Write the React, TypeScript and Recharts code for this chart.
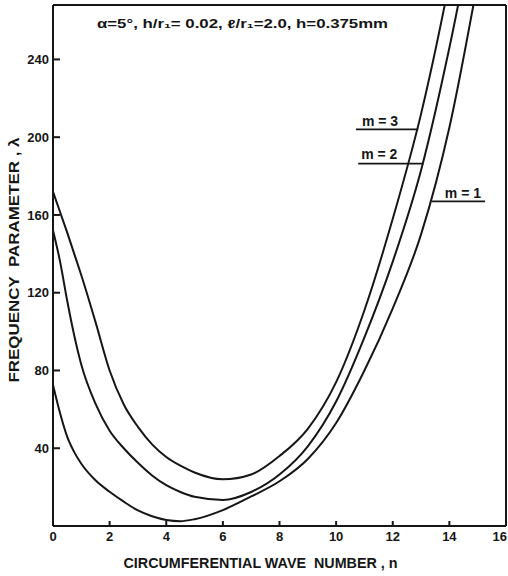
import { Line, LineChart, ReferenceLine, XAxis, YAxis, usePlotArea } from "recharts";

const INK = "#161616";
const FONT = "'Liberation Sans', Arial, sans-serif";

// circumferential wave number n
const waveNumbers = [0, 0.25, 0.5, 0.75, 1, 1.5, 2, 2.5, 3, 3.5, 4, 4.5, 5, 6, 7, 8, 9, 10, 11, 12, 13, 14, 15];
// frequency parameter λ for m = 1, 2, 3
const lambdaM1 = [72.5, 58, 46, 38, 32, 23.5, 17.6, 12.5, 8, 5, 3.1, 2.5, 3.5, 8.2, 15.2, 23, 34.5, 53, 80, 112, 150, 205, 280];
const lambdaM2 = [152, 136, 116, 98, 83, 63, 49, 40, 32.5, 26, 21, 17.5, 15, 13.4, 17.5, 26.5, 41, 64, 97, 136, 183, 246, 320];
const lambdaM3 = [172, 161.5, 151, 140, 129, 105, 80, 62.5, 51, 42, 35.5, 31, 27.5, 24, 26.5, 36, 50, 74, 111, 158, 212, 280, 360];

const xTicks = [0, 2, 4, 6, 8, 10, 12, 14, 16];
const yTicks = [40, 80, 120, 160, 200, 240];

const caption = "α=5°, h/r₁= 0.02, ℓ/r₁=2.0, h=0.375mm";
const xTitle = "CIRCUMFERENTIAL WAVE  NUMBER , n";
const yTitle = "FREQUENCY  PARAMETER , λ";

const rows = waveNumbers.map((n, i) => ({
  n,
  m1: lambdaM1[i],
  m2: lambdaM2[i],
  m3: lambdaM3[i],
}));

function YTick({ x, y, payload }: any) {
  return (
    <g>
      <line x1={x - 1} x2={x + 7} y1={y} y2={y} stroke={INK} strokeWidth={2} />
      <text
        x={x - 4}
        y={y}
        dy="0.36em"
        textAnchor="end"
        fontFamily={FONT}
        fontWeight="bold"
        fontSize={13}
        fill={INK}
      >
        {payload.value}
      </text>
    </g>
  );
}

function XTick({ x, y, payload }: any) {
  // the last label sits on the right border, keep it inside the picture
  const last = payload.value === xTicks[xTicks.length - 1];
  return (
    <g>
      <line x1={x} x2={x} y1={y - 5} y2={y} stroke={INK} strokeWidth={2} />
      <text
        x={last ? x + 1 : x}
        y={y + 15}
        textAnchor={last ? "end" : "middle"}
        fontFamily={FONT}
        fontWeight="bold"
        fontSize={13}
        fill={INK}
      >
        {payload.value}
      </text>
    </g>
  );
}

function ModeLabel({ viewBox, text, dx, dy }: any) {
  if (!viewBox) return null;
  return (
    <text
      x={viewBox.x + dx}
      y={viewBox.y + dy}
      fontFamily={FONT}
      fontWeight="bold"
      fontSize={14}
      fill={INK}
      style={{ whiteSpace: "pre" }}
    >
      {text}
    </text>
  );
}

function Caption() {
  const plot = usePlotArea();
  if (!plot) return null;
  return (
    <text
      x={plot.x + 44}
      y={plot.y + 23}
      fontFamily={FONT}
      fontWeight="bold"
      fontSize={12}
      fill={INK}
      textLength={291}
      lengthAdjust="spacingAndGlyphs"
      style={{ whiteSpace: "pre" }}
    >
      {caption}
    </text>
  );
}

export default function App() {
  return (
    <div style={{ position: "absolute", left: 0, top: 0, width: 508, height: 576, background: "#fff" }}>
      <LineChart
        width={508}
        height={576}
        data={rows}
        margin={{ top: 5, right: 2, bottom: 0, left: 0 }}
      >
        <XAxis
          dataKey="n"
          type="number"
          domain={[0, 16]}
          ticks={xTicks}
          interval={0}
          allowDataOverflow
          height={50}
          tickSize={0}
          tickMargin={0}
          tick={<XTick />}
          tickLine={false}
          axisLine={{ stroke: INK, strokeWidth: 2 }}
          label={{
            content: ({ viewBox }: any) => (
              <text
                x={viewBox.x + viewBox.width / 2 - 19}
                y={viewBox.y + 42}
                textAnchor="middle"
                fontFamily={FONT}
                fontWeight="bold"
                fontSize={14}
                fill={INK}
                textLength={274}
                lengthAdjust="spacingAndGlyphs"
                style={{ whiteSpace: "pre" }}
              >
                {xTitle}
              </text>
            ),
          }}
        />
        <YAxis
          type="number"
          domain={[0, 268]}
          ticks={yTicks}
          interval={0}
          allowDataOverflow
          width={53}
          tickSize={0}
          tickMargin={0}
          tick={<YTick />}
          tickLine={false}
          axisLine={{ stroke: INK, strokeWidth: 2 }}
          label={{
            content: ({ viewBox }: any) => {
              const cx = viewBox.x + 18.5;
              const cy = viewBox.y + viewBox.height / 2 - 5.5;
              return (
                <text
                  x={cx}
                  y={cy}
                  transform={`rotate(-90 ${cx} ${cy})`}
                  textAnchor="middle"
                  fontFamily={FONT}
                  fontWeight="bold"
                  fontSize={15}
                  fill={INK}
                  textLength={245}
                  lengthAdjust="spacingAndGlyphs"
                  style={{ whiteSpace: "pre" }}
                >
                  {yTitle}
                </text>
              );
            },
          }}
        />
        <ReferenceLine y={268} stroke={INK} strokeWidth={2} />
        <ReferenceLine x={16} stroke={INK} strokeWidth={2} />

        <Line type="monotone" dataKey="m1" stroke={INK} strokeWidth={2} dot={false} isAnimationActive={false} />
        <Line type="monotone" dataKey="m2" stroke={INK} strokeWidth={2} dot={false} isAnimationActive={false} />
        <Line type="monotone" dataKey="m3" stroke={INK} strokeWidth={2} dot={false} isAnimationActive={false} />

        <ReferenceLine
          segment={[{ x: 10.7, y: 204 }, { x: 12.9, y: 204 }]}
          stroke={INK}
          strokeWidth={1.6}
          ifOverflow="visible"
          label={<ModeLabel text="m = 3" dx={6} dy={-3.5} />}
        />
        <ReferenceLine
          segment={[{ x: 10.78, y: 186.4 }, { x: 13.08, y: 186.4 }]}
          stroke={INK}
          strokeWidth={1.6}
          ifOverflow="visible"
          label={<ModeLabel text="m = 2" dx={3} dy={-5} />}
        />
        <ReferenceLine
          segment={[{ x: 13.38, y: 167 }, { x: 15.26, y: 167 }]}
          stroke={INK}
          strokeWidth={1.6}
          ifOverflow="visible"
          label={<ModeLabel text="m = 1" dx={13} dy={-3.5} />}
        />
        <Caption />
      </LineChart>
    </div>
  );
}
